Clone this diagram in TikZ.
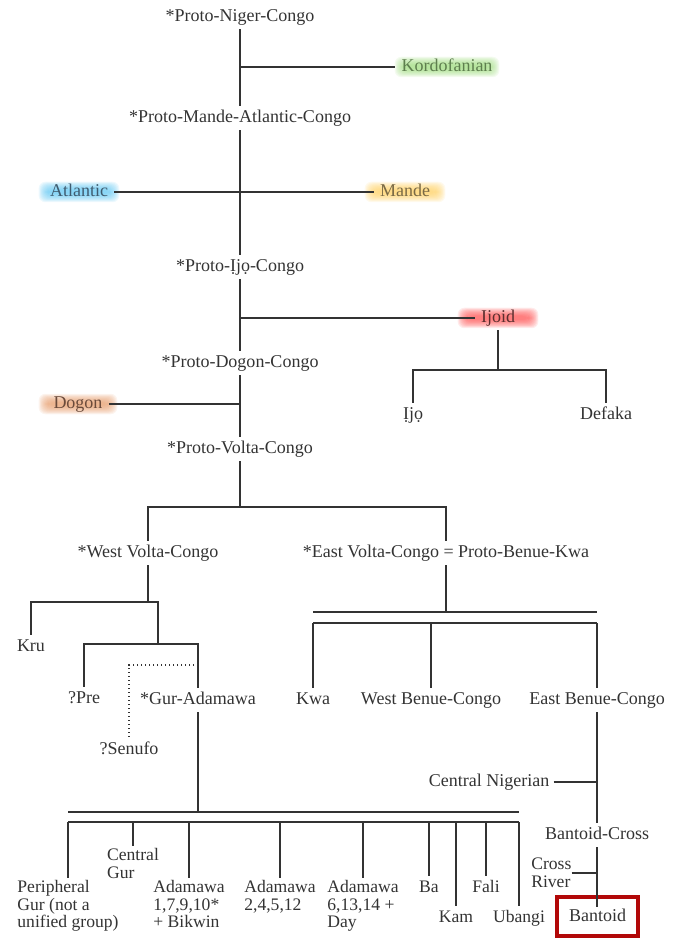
\documentclass[tikz,border=0pt]{standalone}
\usepackage{fontspec}
\setmainfont{Liberation Serif}
\usetikzlibrary{calc,backgrounds}
\definecolor{ink}{HTML}{333333}
\definecolor{boxred}{RGB}{178,8,8}
\definecolor{kordglow}{HTML}{9CDB7A}
\definecolor{kordtxt}{HTML}{5E7F4E}
\definecolor{atlglow}{HTML}{5EC6F2}
\definecolor{atltxt}{HTML}{3F5C70}
\definecolor{mandeglow}{HTML}{FFCF5E}
\definecolor{mandetxt}{HTML}{7A6A45}
\definecolor{ijglow}{HTML}{FF4F4F}
\definecolor{ijtxt}{HTML}{5B2E2E}
\definecolor{dogglow}{HTML}{E69A68}
\definecolor{dogtxt}{HTML}{6B4B3B}
\newcommand\myglow[4]{%
  \foreach \k in {0,...,11}{%
    \fill[#2,opacity=0.1,rounded corners=5pt]
      ($(#1.center)+(-#3-\k*0.85,-#4-\k*0.75)$) rectangle ($(#1.center)+(#3+\k*0.85,#4+\k*0.75)$);}}
\tikzset{
  lbl/.style={font=\fontsize{13.5pt}{13.3pt}\selectfont, text=ink, inner xsep=3pt, inner ysep=2.6pt, text height=9.75pt, text depth=3pt},
  slbl/.style={lbl, font=\fontsize{13.2pt}{13.3pt}\selectfont},
  mlbl/.style={font=\fontsize{13.2pt}{13.3pt}\selectfont, text=ink, align=left, inner xsep=0pt, inner ysep=1.5pt},
  glowlbl/.style={lbl, inner xsep=4.5pt},
  treeline/.style={draw=ink, line width=0.95pt},
  dotline/.style={draw=ink, line width=1pt, dotted}
}
\begin{document}
\begin{tikzpicture}[x=0.75pt,y=-0.75pt]
\useasboundingbox (0,0) rectangle (686,944);

% ---- nodes ----
\node[lbl] (pnc) at (240,17) {*Proto-Niger-Congo};
\node[glowlbl, text=kordtxt] (kord) at (447,67) {Kordofanian};
\node[lbl] (pmac) at (240,118) {*Proto-Mande-Atlantic-Congo};
\node[glowlbl, text=atltxt] (atl) at (79,192) {Atlantic};
\node[glowlbl, text=mandetxt] (mande) at (405,192) {Mande};
\node[lbl] (pijc) at (240,267) {*Proto-Ịjọ-Congo};
\node[glowlbl, text=ijtxt] (ijoid) at (498,318) {Ijoid};
\node[lbl] (ijo) at (413,415) {Ịjọ};
\node[lbl] (defaka) at (606,415) {Defaka};
\node[lbl] (pdc) at (240,363) {*Proto-Dogon-Congo};
\node[glowlbl, text=dogtxt] (dogon) at (78,404) {Dogon};
\node[lbl] (pvc) at (240,449) {*Proto-Volta-Congo};
\node[lbl] (wvc) at (148,553) {*West Volta-Congo};
\node[lbl] (evc) at (446,553) {*East Volta-Congo = Proto-Benue-Kwa};
\node[lbl] (kru) at (31,647) {Kru};
\node[lbl] (pre) at (84,699) {?Pre};
\node[lbl] (ga) at (198,700) {*Gur-Adamawa};
\node[lbl] (sen) at (129,750) {?Senufo};
\node[lbl] (kwa) at (313,700) {Kwa};
\node[lbl] (wbc) at (431,700) {West Benue-Congo};
\node[lbl] (ebc) at (597,700) {East Benue-Congo};
\node[lbl] (cn) at (489,782) {Central Nigerian};
\node[lbl] (bc) at (597,835) {Bantoid-Cross};
\node[mlbl, anchor=west] (cr) at (531,873) {Cross\\River};
\node[lbl, draw=boxred, line width=3pt, minimum width=60.75pt, minimum height=29.25pt] (bant) at (597.5,916.5) {Bantoid};

\node[mlbl, anchor=north] (per) at (68,878) {Peripheral\\Gur (not a\\unified group)};
\node[mlbl, anchor=north] (cg) at (133,846) {Central\\Gur};
\node[mlbl, anchor=north] (a1) at (189,878) {Adamawa\\1,7,9,10*\\+ Bikwin};
\node[mlbl, anchor=north] (a2) at (280,878) {Adamawa\\2,4,5,12};
\node[mlbl, anchor=north] (a6) at (363,878) {Adamawa\\6,13,14 +\\Day};
\node[slbl] (ba) at (429,888) {Ba};
\node[slbl] (kam) at (456,918) {Kam};
\node[slbl] (fali) at (486,888) {Fali};
\node[slbl] (ub) at (519,918) {Ubangi};

% ---- glows ----
\begin{scope}[on background layer]
  \myglow{kord}{kordglow}{43}{2}
  \myglow{atl}{atlglow}{31}{2}
  \myglow{mande}{mandeglow}{31}{2}
  \myglow{ijoid}{ijglow}{31}{2}
  \myglow{dogon}{dogglow}{30}{2}
\end{scope}

% ---- coordinates ----
\coordinate (ijbar) at (499,370);
\coordinate (vbar) at (240,507);
\coordinate (wbar) at (158,602);
\coordinate (pgbar) at (158,644);
\coordinate (dotj) at (198,665);
\coordinate (gbar1) at (198,812);
\coordinate (gbar2) at (198,822);
\coordinate (ebar1) at (446,612);
\coordinate (ebar2) at (446,623);
\coordinate (bend) at ($(bant.center)+(0,-10)$);

% ---- connectors ----
\draw[treeline] (pnc.south) -- (pmac.north);
\draw[treeline] (pnc.south |- kord) -- (kord.west);
\draw[treeline] (pmac.south) -- (pijc.north);
\draw[treeline] (atl.east) -- (mande.west);
\draw[treeline] (pijc.south) -- (pdc.north);
\draw[treeline] (pijc.south |- ijoid) -- (ijoid.west);
\draw[treeline] (ijoid.south) -- (ijoid.south |- ijbar);
\draw[treeline] (ijo.north) |- (ijbar) -| (defaka.north);
\draw[treeline] (pdc.south) -- (pvc.north);
\draw[treeline] (dogon.east) -- (dogon.east -| pdc.south);
\draw[treeline] (pvc.south) -- (vbar);
\draw[treeline] (wvc.north) |- (vbar) -| (evc.north);
\draw[treeline] (wvc.south) -- (wvc.south |- wbar);
\draw[treeline] (kru.north) |- (wbar) -- (pgbar);
\draw[treeline] (pre.north) |- (pgbar) -| (ga.north);
\draw[dotline] (ga.north |- dotj) -| (sen.north);
\draw[treeline] (ga.south) -- (gbar1);
\draw[treeline] (per.north |- gbar1) -- (ub.north |- gbar1);
\draw[treeline] (per.north |- gbar2) -- (ub.north |- gbar2);
\foreach \n in {per,cg,a1,a2,a6,ba,kam,fali,ub}
  \draw[treeline] (\n.north |- gbar2) -- (\n.north);
\draw[treeline] (evc.south) -- (ebar1);
\draw[treeline] (kwa.north |- ebar1) -- (ebc.north |- ebar1);
\draw[treeline] (kwa.north |- ebar2) -- (ebc.north |- ebar2);
\foreach \n in {kwa,wbc,ebc}
  \draw[treeline] (\n.north |- ebar2) -- (\n.north);
\draw[treeline] (ebc.south) -- (bc.north);
\draw[treeline] (cn.east) -- (cn.east -| ebc.south);
\draw[treeline] (bc.south) -- (bc.south |- bend);
\draw[treeline] (cr.east) -- (cr.east -| bc.south);
\end{tikzpicture}
\end{document}
